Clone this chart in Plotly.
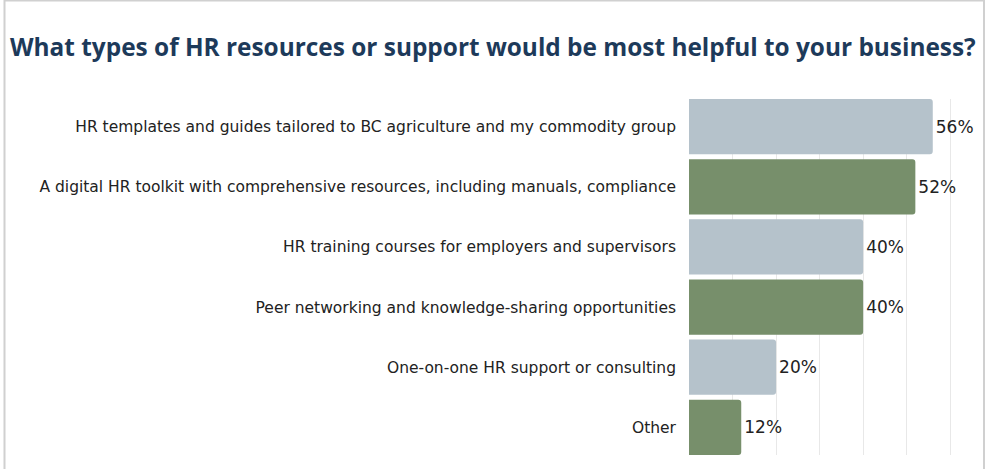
import plotly.graph_objects as go

# Survey responses, top to bottom
categories = [
    "HR templates and guides tailored to BC agriculture and my commodity group",
    "A digital HR toolkit with comprehensive resources, including manuals, compliance",
    "HR training courses for employers and supervisors",
    "Peer networking and knowledge-sharing opportunities",
    "One-on-one HR support or consulting",
    "Other",
]
shares = [0.56, 0.52, 0.40, 0.40, 0.20, 0.12]
bar_colors = ["#b5c2cb", "#778f6b", "#b5c2cb", "#778f6b", "#b5c2cb", "#778f6b"]
labels = [f"{round(v * 100)}%" for v in shares]

W, H = 986, 469
ML, MR, MT, MB = 689, 1, 99, 14

fig = go.Figure(
    go.Bar(
        x=shares,
        y=list(range(len(categories))),
        orientation="h",
        width=0.92,
        marker=dict(color=bar_colors, line=dict(width=0)),
        text=labels,
        textposition="outside",
        textfont=dict(family="DejaVu Sans", size=17, color="#222222"),
        cliponaxis=False,
        hoverinfo="skip",
    )
)

# light frame around the whole card, placed in paper units
pw = W - ML - MR
ph = H - MT - MB
def px_x(x):
    return (x - ML) / pw
def px_y(y):
    return 1 - (y - MT) / ph

fig.add_shape(
    type="rect", xref="paper", yref="paper",
    x0=px_x(4.5), x1=px_x(984), y0=px_y(480), y1=px_y(0.5),
    line=dict(color="#d0d0d0", width=2), layer="below",
)

fig.update_layout(
    width=W,
    height=H,
    margin=dict(l=ML, r=MR, t=MT, b=MB),
    paper_bgcolor="white",
    plot_bgcolor="white",
    barcornerradius=3,
    showlegend=False,
    title=dict(
        text="What types of HR resources or support would be most helpful to your business?",
        x=10 / W, xanchor="left", xref="container",
        y=1 - 47 / H, yanchor="middle", yref="container",
        font=dict(family="Open Sans", size=24.4, color="#1d3a5a", weight="bold"),
    ),
    xaxis=dict(
        range=[0, 0.68],
        dtick=0.1,
        showgrid=True,
        gridcolor="#e8e8e8",
        gridwidth=1,
        zeroline=False,
        showticklabels=False,
        showline=False,
        fixedrange=True,
    ),
    yaxis=dict(
        range=[5.46, -0.46],
        tickmode="array",
        tickvals=list(range(len(categories))),
        ticktext=categories,
        tickfont=dict(family="DejaVu Sans", size=15.5, color="#222222"),
        ticks="",
        ticklabelstandoff=12,
        showgrid=False,
        zeroline=False,
        showline=False,
        fixedrange=True,
    ),
)

fig.write_html("out.html", config={"displayModeBar": False})
